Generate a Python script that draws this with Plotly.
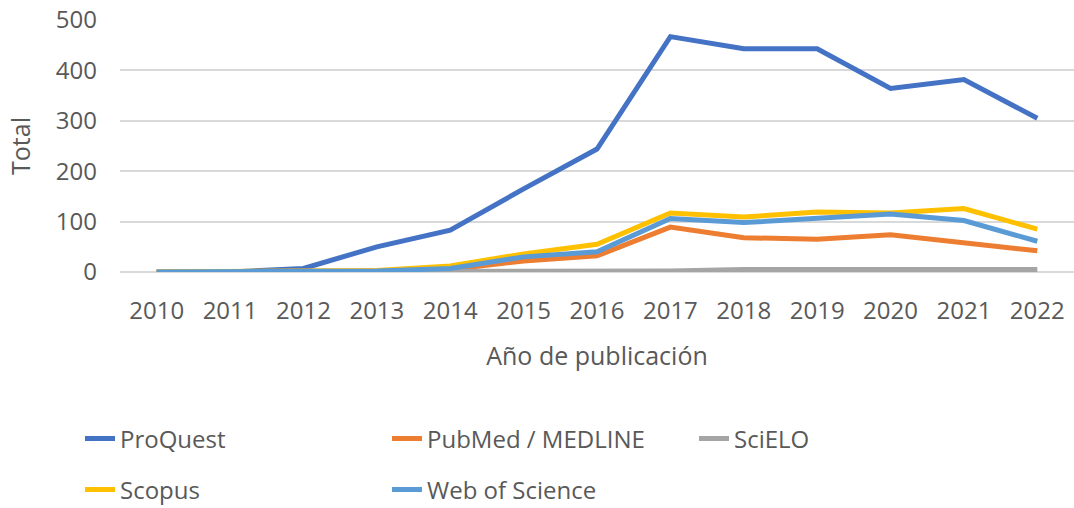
import plotly.graph_objects as go

years = ["2010", "2011", "2012", "2013", "2014", "2015", "2016", "2017", "2018", "2019", "2020", "2021", "2022"]
proquest = [0, 0, 7, 50, 83, 165, 244, 467, 443, 443, 364, 382, 305]
pubmed = [0, 0, 2, 2, 5, 22, 32, 89, 68, 65, 74, 58, 42]
scielo = [0, 0, 0, 0, 0, 1, 1, 2, 5, 5, 3, 3, 5]
scopus = [0, 0, 2, 3, 12, 36, 55, 117, 109, 119, 117, 126, 85]
wos = [0, 0, 1, 2, 7, 30, 40, 106, 98, 106, 115, 102, 61]

series = [
    ("ProQuest", proquest, "#4472C4", "legend"),
    ("PubMed / MEDLINE", pubmed, "#ED7D31", "legend"),
    ("SciELO", scielo, "#A5A5A5", "legend"),
    ("Scopus", scopus, "#FFC000", "legend2"),
    ("Web of Science", wos, "#5B9BD5", "legend2"),
]

fig = go.Figure()
for name, vals, color, lg in series:
    fig.add_trace(go.Scatter(x=years, y=vals, name=name, mode="lines",
                             line=dict(color=color, width=5), legend=lg))

font_family = "Open Sans, sans-serif"
txt = "#595959"
fs = 24
leg_common = dict(orientation="h", xref="container", yref="container",
                  xanchor="left", yanchor="middle", entrywidth=262, entrywidthmode="pixels",
                  font=dict(size=fs, color=txt), bgcolor="rgba(0,0,0,0)", itemwidth=30,
                  borderwidth=0)
fig.update_layout(
    width=1074, height=508,
    margin=dict(l=120, r=0, t=20, b=236, autoexpand=False),
    plot_bgcolor="white", paper_bgcolor="white",
    font=dict(family=font_family, size=fs, color=txt),
    xaxis=dict(type="category", range=[-0.5, 12.5], showgrid=False,
               showline=False, zeroline=False, ticks="",
               tickfont=dict(size=fs, color=txt), ticklabelstandoff=22,
               title=dict(text="Año de publicación", font=dict(size=25, color=txt), standoff=22)),
    yaxis=dict(range=[0, 500], dtick=100, showgrid=True, gridcolor="#D9D9D9", gridwidth=1.5,
               zeroline=True, zerolinecolor="#D9D9D9", zerolinewidth=1.5,
               showline=False, ticks="", tickfont=dict(size=fs, color=txt), ticklabelstandoff=22,
               title=dict(text="Total", font=dict(size=25, color=txt), standoff=18)),
    legend=dict(x=80 / 1074, y=1 - 439 / 508, **leg_common),
    legend2=dict(x=80 / 1074, y=1 - 490 / 508, **leg_common),
)
fig.write_html("out.html", post_script="document.body.style.margin='0px';",
               config={"displayModeBar": False})
